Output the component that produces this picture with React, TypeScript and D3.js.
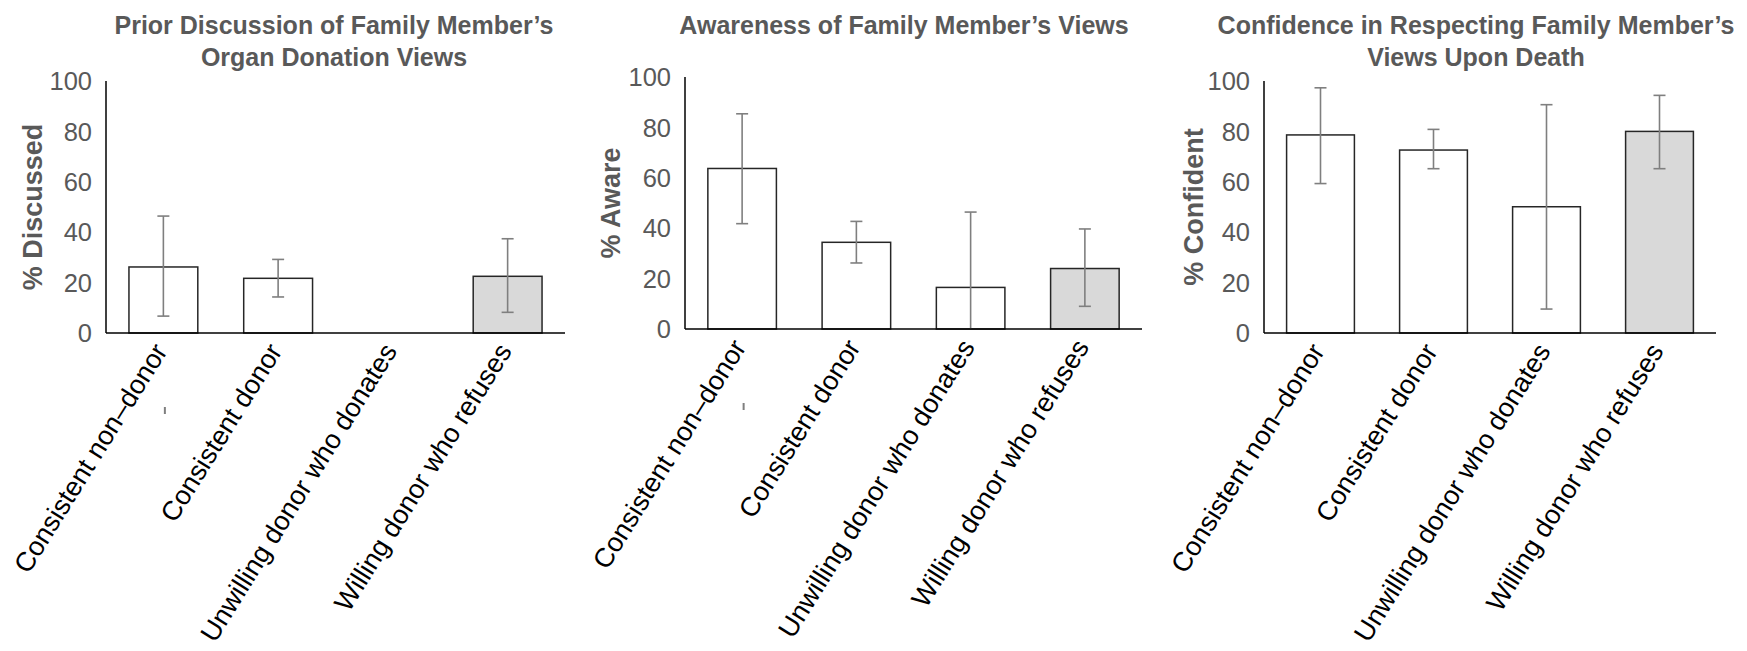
import React from "react";
import * as d3 from "d3";

const categories = [
  "Consistent non\u2013donor",
  "Consistent donor",
  "Unwilling donor who donates",
  "Willing donor who refuses",
];
const yTicks = [0, 20, 40, 60, 80, 100];

const discussedValues = [26.2, 21.7, 0, 22.5];
const discussedLow: (number | null)[] = [6.7, 14.3, null, 8.2];
const discussedHigh: (number | null)[] = [46.4, 29.2, null, 37.4];

const awareValues = [63.7, 34.4, 16.5, 24.0];
const awareLow: (number | null)[] = [41.8, 26.2, 0, 9.0];
const awareHigh: (number | null)[] = [85.4, 42.7, 46.4, 39.7];

const confidentValues = [78.6, 72.6, 50.1, 80.0];
const confidentLow: (number | null)[] = [59.3, 65.2, 9.5, 65.2];
const confidentHigh: (number | null)[] = [97.3, 80.8, 90.6, 94.3];

const highlighted = [false, false, false, true];

const panels = [
  {
    title: ["Prior Discussion of Family Member\u2019s", "Organ Donation Views"],
    yLabel: "% Discussed",
    values: discussedValues,
    low: discussedLow,
    high: discussedHigh,
    x0: 106, x1: 565, top: 81, bottom: 333, titleX: 334, yLabelX: 42, mark: true,
  },
  {
    title: ["Awareness of Family Member\u2019s Views"],
    yLabel: "% Aware",
    values: awareValues,
    low: awareLow,
    high: awareHigh,
    x0: 685, x1: 1142, top: 77, bottom: 329, titleX: 904, yLabelX: 620, mark: true,
  },
  {
    title: ["Confidence in Respecting Family Member\u2019s", "Views Upon Death"],
    yLabel: "% Confident",
    values: confidentValues,
    low: confidentLow,
    high: confidentHigh,
    x0: 1264, x1: 1716, top: 81, bottom: 333, titleX: 1476, yLabelX: 1203, mark: false,
  },
];

const FONT = "'Liberation Sans', Arial, Helvetica, sans-serif";
const GRAY = "#595959";

function Panel({ p }: { p: (typeof panels)[number] }) {
  const x = d3.scaleBand<string>().domain(categories).range([p.x0, p.x1]).paddingInner(0.4).paddingOuter(0.2);
  const y = d3.scaleLinear().domain([0, 100]).range([p.bottom, p.top]);
  const bw = x.bandwidth();
  const cap = 6;
  return (
    <g>
      {p.title.map((t, i) => (
        <text key={i} x={p.titleX} y={34 + i * 31.5} textAnchor="middle" fontFamily={FONT} fontWeight="bold" fontSize={25} fill={GRAY}>
          {t}
        </text>
      ))}
      <text
        transform={`translate(${p.yLabelX},${(p.top + p.bottom) / 2}) rotate(-90)`}
        textAnchor="middle" fontFamily={FONT} fontWeight="bold" fontSize={27} fill={GRAY}
      >
        {p.yLabel}
      </text>
      {yTicks.map((t) => (
        <text key={t} x={p.x0 - 14} y={y(t)} dy="0.36em" textAnchor="end" fontFamily={FONT} fontSize={25.5} fill={GRAY}>
          {t}
        </text>
      ))}
      {categories.map((c, i) => {
        const v = p.values[i];
        const bx = x(c)!;
        return v > 0 ? (
          <rect key={c} x={bx} y={y(v)} width={bw} height={y(0) - y(v)} fill={highlighted[i] ? "#d9d9d9" : "#ffffff"} stroke="#262626" strokeWidth={1.5} />
        ) : null;
      })}
      {categories.map((c, i) => {
        const lo = p.low[i];
        const hi = p.high[i];
        if (lo == null || hi == null) return null;
        const cx = x(c)! + bw / 2;
        return (
          <g key={c} stroke="#7f7f7f" strokeWidth={1.6}>
            <line x1={cx} x2={cx} y1={y(lo)} y2={y(hi)} />
            <line x1={cx - cap} x2={cx + cap} y1={y(hi)} y2={y(hi)} />
            {lo > 0 ? <line x1={cx - cap} x2={cx + cap} y1={y(lo)} y2={y(lo)} /> : null}
          </g>
        );
      })}
      <line x1={p.x0} x2={p.x0} y1={p.top} y2={p.bottom} stroke="#000" strokeWidth={1.5} />
      <line x1={p.x0} x2={p.x1} y1={p.bottom} y2={p.bottom} stroke="#000" strokeWidth={1.5} />
      {categories.map((c) => {
        const cx = x(c)! + bw / 2;
        return (
          <text
            key={c}
            transform={`translate(${cx + 5},${p.bottom + 18}) rotate(-58)`}
            textAnchor="end" fontFamily={FONT} fontSize={27} fill="#000"
          >
            {c}
          </text>
        );
      })}
      {p.mark ? (
        <line x1={x(categories[0])! + bw / 2 + 1.5} x2={x(categories[0])! + bw / 2 + 1.5} y1={p.bottom + 74} y2={p.bottom + 81} stroke="#7f7f7f" strokeWidth={2} />
      ) : null}
    </g>
  );
}

export default function App() {
  return (
    <svg width={1747} height={651} style={{ position: "absolute", left: 0, top: 0, background: "#fff" }}>
      <rect width={1747} height={651} fill="#fff" />
      {panels.map((p, i) => (
        <Panel key={i} p={p} />
      ))}
    </svg>
  );
}
